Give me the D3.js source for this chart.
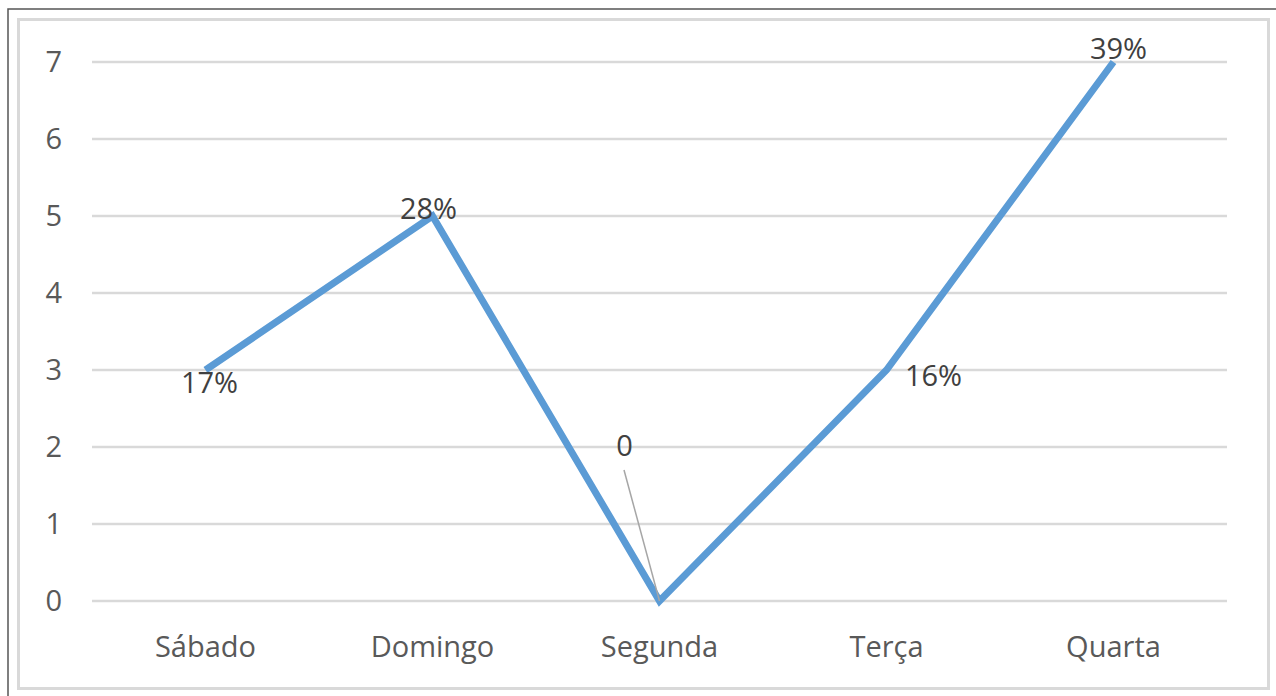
<!DOCTYPE html>
<html>
<head>
<meta charset="utf-8">
<script src="https://cdn.jsdelivr.net/npm/d3@7"></script>
<style>
  body { margin: 0; background: #fff; }
  svg { display: block; font-family: "Open Sans", "Noto Sans", sans-serif; }
</style>
</head>
<body>
<svg id="chart" width="1276" height="696"></svg>
<script>
// data
var days = ["Sábado", "Domingo", "Segunda", "Terça", "Quarta"];
var counts = [3, 5, 0, 3, 7];
var pctLabels = ["17%", "28%", "0", "16%", "39%"];
var yTicks = [0, 1, 2, 3, 4, 5, 6, 7];

var svg = d3.select("#chart"),
    width = +svg.attr("width"),
    height = +svg.attr("height");

// outer frame (dark) and chart area frame (light)
svg.append("path")
    .attr("d", "M8,700 L8,9 L1276,9")
    .attr("fill", "none")
    .attr("stroke", "#555")
    .attr("stroke-width", 1.5);
svg.append("rect")
    .attr("x", 18.5).attr("y", 19.5)
    .attr("width", 1250).attr("height", 669)
    .attr("fill", "#fff")
    .attr("stroke", "#d9d9d9")
    .attr("stroke-width", 3);

var margin = {left: 92, right: 1227, top: 62, bottom: 601};

var x = d3.scaleBand()
    .domain(days)
    .range([margin.left, margin.right]);

var y = d3.scaleLinear()
    .domain([0, 7])
    .range([margin.bottom, margin.top]);

// gridlines
svg.append("g")
    .selectAll("line")
    .data(yTicks)
    .enter().append("line")
    .attr("x1", margin.left)
    .attr("x2", margin.right)
    .attr("y1", function(d) { return y(d); })
    .attr("y2", function(d) { return y(d); })
    .attr("stroke", "#d9d9d9")
    .attr("stroke-width", 2.5);

// y tick labels
svg.append("g")
    .selectAll("text")
    .data(yTicks)
    .enter().append("text")
    .attr("x", 62)
    .attr("y", function(d) { return y(d); })
    .attr("dy", "0.36em")
    .attr("text-anchor", "end")
    .attr("fill", "#595959")
    .style("font-size", "29px")
    .text(function(d) { return d; });

// x labels
svg.append("g")
    .selectAll("text")
    .data(days)
    .enter().append("text")
    .attr("x", function(d) { return x(d) + x.bandwidth() / 2; })
    .attr("y", 657)
    .attr("text-anchor", "middle")
    .attr("fill", "#595959")
    .style("font-size", "29px")
    .text(function(d) { return d; });

var cx = function(i) { return x(days[i]) + x.bandwidth() / 2; };

// the line
var line = d3.line()
    .x(function(d, i) { return cx(i); })
    .y(function(d) { return y(d); });

svg.append("path")
    .datum(counts)
    .attr("d", line)
    .attr("fill", "none")
    .attr("stroke", "#5b9bd5")
    .attr("stroke-width", 7)
    .attr("stroke-linejoin", "miter");

// leader line for the "0" label
svg.append("line")
    .attr("x1", 624).attr("y1", 470)
    .attr("x2", cx(2)).attr("y2", y(counts[2]))
    .attr("stroke", "#a6a6a6")
    .attr("stroke-width", 1.5);

// data labels (offsets relative to point)
var labelOffsets = [[4, 13], [-4, -7], [-35, -155], [47, 6], [5, -13]];

svg.append("g")
    .selectAll("text")
    .data(counts)
    .enter().append("text")
    .attr("x", function(d, i) { return cx(i) + labelOffsets[i][0]; })
    .attr("y", function(d, i) { return y(d) + labelOffsets[i][1]; })
    .attr("text-anchor", "middle")
    .attr("dy", "0.35em")
    .attr("fill", "#404040")
    .style("font-size", "29px")
    .text(function(d, i) { return pctLabels[i]; });
</script>
</body>
</html>
